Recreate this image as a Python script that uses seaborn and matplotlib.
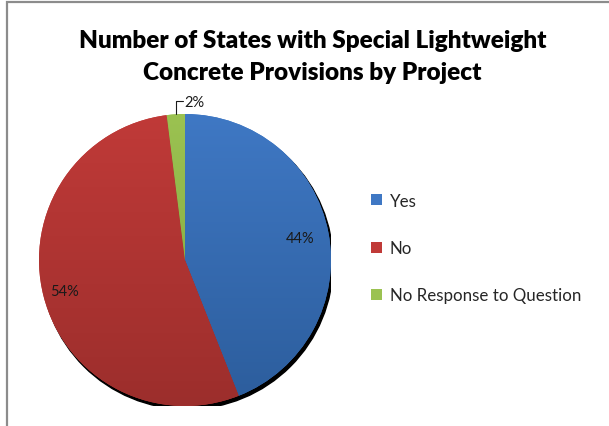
import numpy as np
import matplotlib
matplotlib.use("Agg")
import matplotlib.pyplot as plt
import seaborn as sns
from matplotlib.colors import LinearSegmentedColormap
from matplotlib.patches import Circle, Rectangle, Patch

# Survey responses (percent of states)
categories = ["Yes", "No", "No Response to Question"]
shares = [44, 54, 2]
pct_labels = ["44%", "54%", "2%"]

title = "Number of States with Special Lightweight\nConcrete Provisions by Project"

sns.set_theme(style="white")
plt.rcParams["font.family"] = ["Lato", "DejaVu Sans"]

# top (light) / bottom (dark) shading for each slice
base = sns.color_palette(["#3F78C4", "#C03A38", "#9BC251"])
dark = sns.color_palette(["#2C5D9C", "#9C2E2C", "#7FA33F"])

W, H = 609, 427
fig = plt.figure(figsize=(W / 100, H / 100), dpi=100)
fig.patch.set_facecolor("white")

# chart-area frame (top and left edges)
fig.patches.append(Rectangle((6.5 / W, -0.2), 1.3, 1.2 - 2.5 / H,
                             transform=fig.transFigure, fill=False,
                             edgecolor="#8c8c8c", lw=1.6))

cx, cy, r = 185, 261, 146
ax = fig.add_axes([(cx - r) / W, (H - cy - r) / H, 2 * r / W, 2 * r / H])

wedges, _ = ax.pie(shares, startangle=90, counterclock=False, radius=1,
                   colors=base, wedgeprops=dict(linewidth=0))

# drop shadow
ax.add_patch(Circle((0.015, -0.022), 1.0, color="black", zorder=0))

grad = np.linspace(0, 1, 256).reshape(-1, 1)
for w, c_hi, c_lo in zip(wedges, base, dark):
    cmap = LinearSegmentedColormap.from_list("shade", [c_lo, c_hi])
    im = ax.imshow(grad, cmap=cmap, extent=(-1, 1, -1, 1), origin="lower",
                   aspect="auto", zorder=w.get_zorder() + 0.1)
    im.set_clip_path(w)

ax.set_xlim(-1, 1)
ax.set_ylim(-1, 1)
ax.set_aspect("equal")
ax.axis("off")

# percentage labels
for w, lab, dist in zip(wedges[:2], pct_labels[:2], [0.80, 0.85]):
    ang = np.deg2rad((w.theta1 + w.theta2) / 2)
    ax.text(dist * np.cos(ang), dist * np.sin(ang), lab, ha="center",
            va="center", fontsize=10.5, color="#1a1a1a", zorder=5)

# small slice: label above with leader line
g = wedges[2]
ang = np.deg2rad((g.theta1 + g.theta2) / 2)
x0, y0 = np.cos(ang), np.sin(ang)
ax.plot([x0, x0, x0 + 0.05], [y0, 1.09, 1.09], color="#1a1a1a", lw=0.8,
        clip_on=False, zorder=5)
ax.text(x0 + 0.06, 1.085, pct_labels[2], ha="left", va="center",
        fontsize=10.5, color="#1a1a1a", zorder=5)

fig.text(0.5 * (80 + 545) / W, 1 - 57 / H, title, ha="center", va="center",
         fontsize=17.5, fontweight="heavy", color="black", linespacing=1.5)

handles = [Patch(facecolor=c, edgecolor="none") for c in base]
fig.legend(handles, categories, loc="center left",
           bbox_to_anchor=(363 / W, 1 - 249 / H), frameon=False,
           fontsize=12.2, handlelength=0.62, handleheight=0.62,
           handletextpad=0.45, labelspacing=1.85, borderpad=0)

fig.savefig("out.png", dpi=100)
